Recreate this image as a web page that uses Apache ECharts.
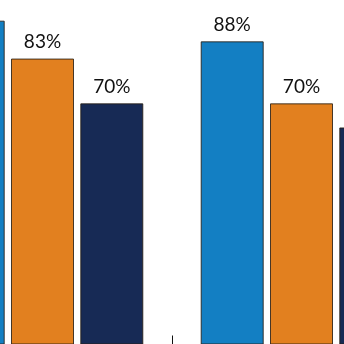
<!DOCTYPE html>
<html><head><meta charset="utf-8">
<script src="https://cdn.jsdelivr.net/npm/echarts@6/dist/echarts.min.js"></script>
<style>html,body{margin:0;padding:0;background:#fff}#c{width:344px;height:344px}</style>
</head><body><div id="c"></div>
<script>
const categories = ['A', 'B'];
const seriesBlue = [94, 88];
const seriesOrange = [83, 70];
const seriesNavy = [70, 63];
const colors = ['#137fc3', '#e2801f', '#172a55'];

const chart = echarts.init(document.getElementById('c'), null, {renderer: 'canvas'});
function mk(name, data, color) {
  return {
    name, type: 'bar', data, barWidth: 63, barGap: '10%',
    itemStyle: {color, borderColor: 'rgba(40,30,20,0.85)', borderWidth: 1},
    label: {show: true, position: 'top', distance: 7, formatter: '{c}%',
      color: '#111', fontFamily: 'Lato', fontSize: 19}
  };
}
chart.setOption({
  animation: false,
  grid: {left: -87, width: 518, top: 0, bottom: -0.5, containLabel: false, outerBoundsMode: 'none'},
  xAxis: {type: 'category', data: categories,
    axisLine: {show: false},
    axisTick: {show: true, inside: true, length: 9, lineStyle: {color: '#111', width: 1}},
    axisLabel: {show: false}},
  yAxis: {type: 'value', min: 0, max: 100, show: false, splitLine: {show: false}},
  series: [mk('s1', seriesBlue, colors[0]), mk('s2', seriesOrange, colors[1]), mk('s3', seriesNavy, colors[2])]
});
</script></body></html>
